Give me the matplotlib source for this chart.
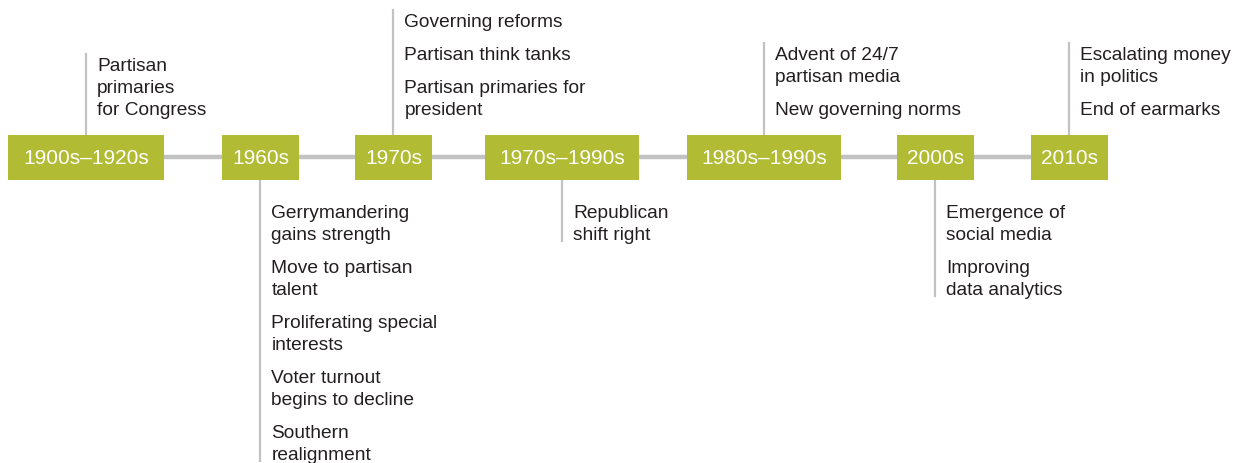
import matplotlib
matplotlib.use("Agg")
from matplotlib import pyplot as plt
from matplotlib.patches import Rectangle

# periodos y eventos
periods = ["1900s\u20131920s", "1960s", "1970s", "1970s\u20131990s",
           "1980s\u20131990s", "2000s", "2010s"]
sides = ["up", "down", "up", "down", "up", "down", "up"]
events = [
    ["Partisan\nprimaries\nfor Congress"],
    ["Gerrymandering\ngains strength", "Move to partisan\ntalent",
     "Proliferating special\ninterests", "Voter turnout\nbegins to decline",
     "Southern\nrealignment"],
    ["Governing reforms", "Partisan think tanks", "Partisan primaries for\npresident"],
    ["Republican\nshift right"],
    ["Advent of 24/7\npartisan media", "New governing norms"],
    ["Emergence of\nsocial media", "Improving\ndata analytics"],
    ["Escalating money\nin politics", "End of earmarks"],
]

# layout en pixeles
centers = [86, 260.5, 393.5, 562, 764, 935.5, 1069.5]
widths = [156, 77, 77, 154, 154, 77, 77]
y_mid = 158
box_h = 45
line_step = 22
item_gap = 11

green = "#b1bb33"
grey = "#c2c2c2"
txt_col = "#231f20"
font = "Liberation Sans"

fig = plt.figure(figsize=(12.43, 4.64), dpi=100)
ax = fig.add_axes([0, 0, 1, 1])
ax.set_xlim(0, 1243)
ax.set_ylim(464, 0)
ax.axis("off")

# linea horizontal
ax.plot([centers[0], centers[-1]], [y_mid, y_mid], color=grey, lw=3.2, zorder=1,
        solid_capstyle="butt")

for lab, side, evs, cx, w in zip(periods, sides, events, centers, widths):
    ax.add_patch(Rectangle((cx - w / 2, y_mid - box_h / 2), w, box_h,
                           facecolor=green, edgecolor="none", zorder=2))
    ax.text(cx, y_mid + 1, lab, color="white", fontsize=15, family=font,
            ha="center", va="center", zorder=3)

    # lineas de texto con baseline
    lines = []
    for ev in evs:
        lines.append(ev.split("\n"))
    baselines = []
    if side == "down":
        b = 218
        for it in lines:
            for k, l in enumerate(it):
                baselines.append((b, l))
                b += line_step
            b += item_gap
        top, bot = y_mid + box_h / 2, baselines[-1][0] + 2
    else:
        b = 115
        for it in reversed(lines):
            for l in reversed(it):
                baselines.append((b, l))
                b -= line_step
            b -= item_gap
        top, bot = baselines[-1][0] - 16, y_mid - box_h / 2
    ax.plot([cx, cx], [top, bot], color=grey, lw=1.6, zorder=1)
    for b, l in baselines:
        ax.text(cx + 11, b, l, color=txt_col, fontsize=13.8, family=font,
                ha="left", va="baseline")

fig.savefig("out.png", dpi=100)
